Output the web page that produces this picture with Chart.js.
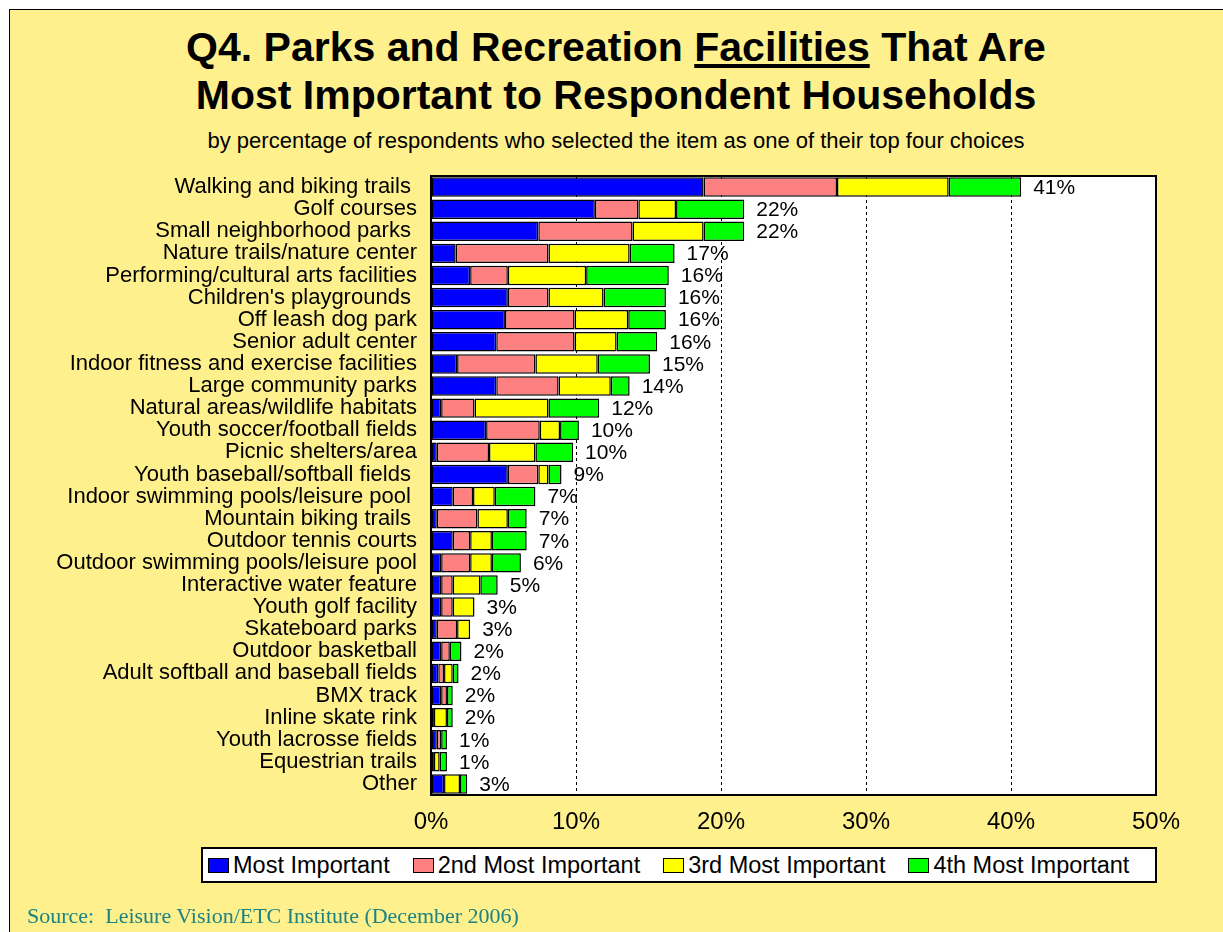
<!DOCTYPE html>
<html>
<head>
<meta charset="utf-8">
<script src="https://cdn.jsdelivr.net/npm/chart.js@4/dist/chart.umd.min.js"></script>
<style>
  html, body { margin: 0; padding: 0; background: #fff; }
  body { width: 1223px; height: 932px; position: relative; overflow: hidden; font-family: Arial, "Liberation Sans", sans-serif; }
  .panel { position: absolute; left: 9px; top: 9px; right: 0; bottom: 0; background: #FFF08E; border-left: 1px solid #000; border-top: 1px solid #000; }
  .title { position: absolute; left: 9px; right: 0; top: 23px; text-align: center; font-weight: bold; font-size: 41px; line-height: 48px; color: #000; }
  .subtitle { position: absolute; left: 9px; right: 0; top: 128px; text-align: center; font-size: 22px; color: #000; }
  .source { position: absolute; left: 27px; top: 903px; font-family: "Times New Roman", "Liberation Serif", serif; font-size: 22px; color: #1C8282; }
  #chart { position: absolute; left: 0; top: 0; }
  .legend { position: absolute; left: 201px; top: 847px; width: 947px; height: 32px; background: #fff; border: 2px solid #000; display: flex; align-items: center; justify-content: flex-start; padding-left: 5px; box-sizing: content-box; font-size: 23.5px; color: #000; white-space: nowrap; }
  .legend span.item { display: inline-flex; align-items: center; margin-right: 23px; flex-shrink: 0; white-space: nowrap; }
  .legend span.box { display: inline-block; width: 19px; height: 13px; border: 1.5px solid #000; margin-right: 4px; flex-shrink: 0; }
</style>
</head>
<body>
<div class="panel"></div>
<div class="title">Q4. Parks and Recreation <u>Facilities</u> That Are<br>Most Important to Respondent Households</div>
<div class="subtitle">by percentage of respondents who selected the item as one of their top four choices</div>
<canvas id="chart" width="1223" height="932"></canvas>
<div class="legend" id="legend"></div>
<div class="source">Source:&nbsp; Leisure Vision/ETC Institute (December 2006)</div>

<script>
const categories = [
  'Walking and biking trails ', 'Golf courses', 'Small neighborhood parks ',
  'Nature trails/nature center', 'Performing/cultural arts facilities',
  "Children's playgrounds ", 'Off leash dog park', 'Senior adult center',
  'Indoor fitness and exercise facilities', 'Large community parks',
  'Natural areas/wildlife habitats', 'Youth soccer/football fields',
  'Picnic shelters/area', 'Youth baseball/softball fields ',
  'Indoor swimming pools/leisure pool ', 'Mountain biking trails ',
  'Outdoor tennis courts', 'Outdoor swimming pools/leisure pool',
  'Interactive water feature', 'Youth golf facility', 'Skateboard parks',
  'Outdoor basketball', 'Adult softball and baseball fields', 'BMX track',
  'Inline skate rink', 'Youth lacrosse fields', 'Equestrian trails', 'Other'
];

const mostImportant   = [18.8, 11.3, 7.4, 1.7, 2.7, 5.3, 5.1, 4.5, 1.8, 4.5, 0.7, 3.8, 0.4, 5.3, 1.5, 0.4, 1.5, 0.7, 0.7, 0.7, 0.4, 0.7, 0.5, 0.7, 0.0, 0.4, 0.0, 0.9];
const secondImportant = [9.2, 3.0, 6.5, 6.4, 2.6, 2.8, 4.8, 5.4, 5.4, 4.3, 2.3, 3.7, 3.6, 2.1, 1.4, 2.8, 1.2, 2.0, 0.8, 0.8, 1.4, 0.6, 0.4, 0.4, 0.2, 0.3, 0.2, 0.0];
const thirdImportant  = [7.7, 2.6, 4.9, 5.6, 5.4, 3.8, 3.7, 2.9, 4.3, 3.6, 5.1, 1.4, 3.2, 0.7, 1.5, 2.1, 1.5, 1.5, 1.9, 1.5, 0.9, 0.0, 0.6, 0.0, 0.9, 0.0, 0.4, 1.1];
const fourthImportant = [5.0, 4.7, 2.8, 3.1, 5.7, 4.3, 2.6, 2.8, 3.6, 1.3, 3.5, 1.3, 2.6, 0.9, 2.8, 1.3, 2.4, 2.0, 1.2, 0.0, 0.0, 0.8, 0.4, 0.4, 0.4, 0.4, 0.5, 0.5];

const seriesNames = ['Most Important', '2nd Most Important', '3rd Most Important', '4th Most Important'];
const seriesColors = ['#0000FF', '#FF8080', '#FFFF00', '#00FF00'];
const xTicks = [0, 10, 20, 30, 40, 50];

const font = 'Arial, "Liberation Sans", sans-serif';

const totals = categories.map((_, i) =>
  Math.round((mostImportant[i] + secondImportant[i] + thirdImportant[i] + fourthImportant[i]) * 10) / 10
);

// white plot background behind the bars
const plotBackground = {
  id: 'plotBackground',
  beforeDraw(chart) {
    const { ctx, chartArea: a } = chart;
    ctx.save();
    ctx.fillStyle = '#fff';
    ctx.fillRect(a.left, a.top, a.right - a.left, a.bottom - a.top);
    ctx.restore();
  }
};

// total percentage to the right of each stacked bar
const totalLabels = {
  id: 'totalLabels',
  afterDatasetsDraw(chart) {
    const { ctx } = chart;
    const xScale = chart.scales.x;
    const meta = chart.getDatasetMeta(0);
    ctx.save();
    ctx.font = '21px ' + font;
    ctx.fillStyle = '#000';
    ctx.textBaseline = 'middle';
    ctx.textAlign = 'left';
    totals.forEach((t, i) => {
      const x = xScale.getPixelForValue(t);
      ctx.fillText(Math.round(t) + '%', x + 12, meta.data[i].y + 1);
    });
    ctx.restore();
  }
};

// black frame round the plot
const plotFrame = {
  id: 'plotFrame',
  afterDraw(chart) {
    const { ctx, chartArea: a } = chart;
    ctx.save();
    ctx.strokeStyle = '#000';
    ctx.lineWidth = 2;
    ctx.strokeRect(a.left, a.top, a.right - a.left, a.bottom - a.top);
    ctx.restore();
  }
};

const seriesData = [mostImportant, secondImportant, thirdImportant, fourthImportant];

new Chart(document.getElementById('chart'), {
  type: 'bar',
  data: {
    labels: categories,
    datasets: seriesData.map((d, k) => ({
      label: seriesNames[k],
      data: d,
      backgroundColor: seriesColors[k],
      borderColor: '#000',
      borderWidth: 1.5,
      borderSkipped: false,
      barPercentage: 0.88,
      categoryPercentage: 1.0
    }))
  },
  options: {
    indexAxis: 'y',
    responsive: false,
    animation: false,
    devicePixelRatio: 1,
    layout: { padding: { left: 10, top: 176, right: 67, bottom: 90 } },
    plugins: {
      legend: { display: false },
      tooltip: { enabled: false }
    },
    scales: {
      x: {
        stacked: true,
        min: 0,
        max: 50,
        afterBuildTicks(scale) { scale.ticks = xTicks.map(v => ({ value: v })); },
        afterFit(scale) { scale.height = 932 - 795 - 90; },
        grid: { color: '#000', lineWidth: 1, drawTicks: false },
        border: { display: false, dash: [3, 3] },
        ticks: {
          padding: 13,
          color: '#000',
          font: { family: font, size: 24 },
          callback: v => v + '%'
        }
      },
      y: {
        stacked: true,
        afterFit(scale) { scale.width = 431 - 10; },
        grid: { display: false, drawTicks: false },
        border: { display: false },
        ticks: {
          padding: 14,
          autoSkip: false,
          color: '#000',
          font: { family: font, size: 22 }
        }
      }
    }
  },
  plugins: [plotBackground, totalLabels, plotFrame]
});

// legend boxes drawn from the same series names and colours
const legendEl = document.getElementById('legend');
seriesNames.forEach((name, k) => {
  const item = document.createElement('span');
  item.className = 'item';
  const box = document.createElement('span');
  box.className = 'box';
  box.style.background = seriesColors[k];
  item.appendChild(box);
  item.appendChild(document.createTextNode(name));
  legendEl.appendChild(item);
});
</script>
</body>
</html>
